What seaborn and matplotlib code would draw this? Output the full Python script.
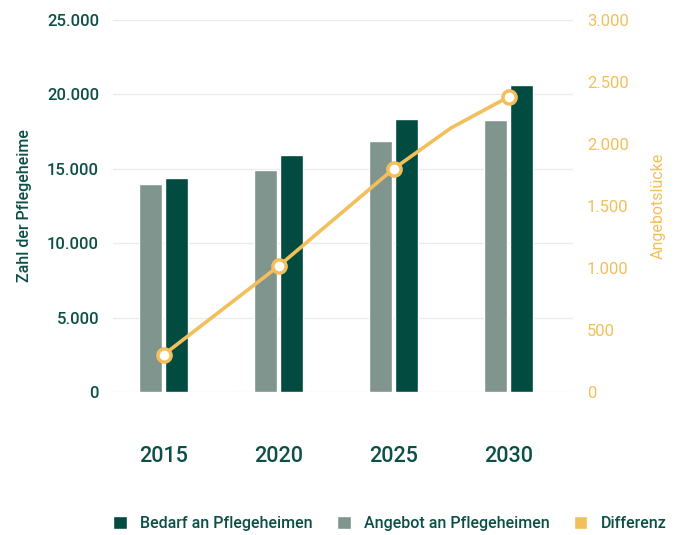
import matplotlib
matplotlib.use("Agg")
import matplotlib.pyplot as plt
import matplotlib.ticker as mticker
from matplotlib.patches import Patch
import pandas as pd
import seaborn as sns

# data
years = ["2015", "2020", "2025", "2030"]
angebot = [14000, 14900, 16900, 18250]
bedarf = [14400, 15900, 18350, 20600]
diff_years = [2015, 2020, 2025, 2027.5, 2030]
differenz = [300, 1015, 1800, 2130, 2380]
marker_years = [2015, 2020, 2025, 2030]

DARK = "#024b40"
GRAY = "#80958e"
YELLOW = "#f2bf5b"
TEXT = "#0c4f46"

sns.set_theme(style="white")
plt.rcParams["font.family"] = ["Roboto", "DejaVu Sans"]

df = pd.DataFrame(
    {
        "Jahr": years * 2,
        "Wert": angebot + bedarf,
        "Serie": ["Angebot an Pflegeheimen"] * 4 + ["Bedarf an Pflegeheimen"] * 4,
    }
)

fig = plt.figure(figsize=(6.83, 5.35), dpi=100)
ax = fig.add_axes([0.1654, 0.2673, 0.6736, 0.6953])

sns.barplot(
    data=df,
    x="Jahr",
    y="Wert",
    hue="Serie",
    hue_order=["Angebot an Pflegeheimen", "Bedarf an Pflegeheimen"],
    palette=[GRAY, DARK],
    width=0.452,
    gap=0.115,
    saturation=1,
    legend=False,
    ax=ax,
)
ax.set_xlim(-0.44, 3.56)
ax.set_ylim(0, 25000)
ax.yaxis.set_major_locator(mticker.MultipleLocator(5000))
ax.yaxis.set_major_formatter(
    mticker.FuncFormatter(lambda v, _: f"{int(v):,}".replace(",", "."))
)
ax.grid(axis="y", color="#ebebeb", linewidth=1)
ax.set_axisbelow(True)
for s in ax.spines.values():
    s.set_visible(False)
ax.tick_params(axis="y", length=0, pad=10, labelsize=12, labelcolor=TEXT)
ax.tick_params(axis="x", length=0, pad=39, labelsize=15.5, labelcolor=TEXT)
for lab in ax.get_yticklabels():
    lab.set_fontweight("medium")
for lab in ax.get_xticklabels():
    lab.set_fontweight("medium")
ax.set_xlabel("")
ax.set_ylabel("Zahl der Pflegeheime", color=TEXT, fontsize=11.5,
              fontweight="medium", labelpad=11)

# right axis: Differenz
ax2 = ax.twinx()
line_x = [(y - 2015) / 5 for y in diff_years]
sns.lineplot(x=line_x, y=differenz, color=YELLOW, linewidth=2.6, ax=ax2)
mark_x = [(y - 2015) / 5 for y in marker_years]
mark_y = [differenz[diff_years.index(y)] for y in marker_years]
ax2.plot(mark_x, mark_y, linestyle="none", marker="o", markersize=9.5,
         markerfacecolor="white", markeredgecolor=YELLOW, markeredgewidth=2.5,
         zorder=5)
ax2.set_ylim(0, 3000)
ax2.yaxis.set_major_locator(mticker.MultipleLocator(500))
ax2.yaxis.set_major_formatter(
    mticker.FuncFormatter(lambda v, _: f"{int(v):,}".replace(",", "."))
)
for s in ax2.spines.values():
    s.set_visible(False)
ax2.grid(False)
ax2.tick_params(axis="y", length=0, pad=10, labelsize=12, labelcolor=YELLOW)
ax2.set_ylabel("Angebotslücke", color=YELLOW, fontsize=11.5, labelpad=16)

handles = [
    Patch(facecolor=DARK, label="Bedarf an Pflegeheimen"),
    Patch(facecolor=GRAY, label="Angebot an Pflegeheimen"),
    Patch(facecolor=YELLOW, label="Differenz"),
]
leg = fig.legend(
    handles=handles,
    loc="center",
    bbox_to_anchor=(0.571, 0.022),
    ncol=3,
    frameon=False,
    handlelength=0.85,
    handleheight=0.85,
    handletextpad=0.85,
    columnspacing=1.5,
    fontsize=11.5,
)
for t in leg.get_texts():
    t.set_color(TEXT)
    t.set_fontweight("medium")

fig.savefig("out.png", dpi=100)
